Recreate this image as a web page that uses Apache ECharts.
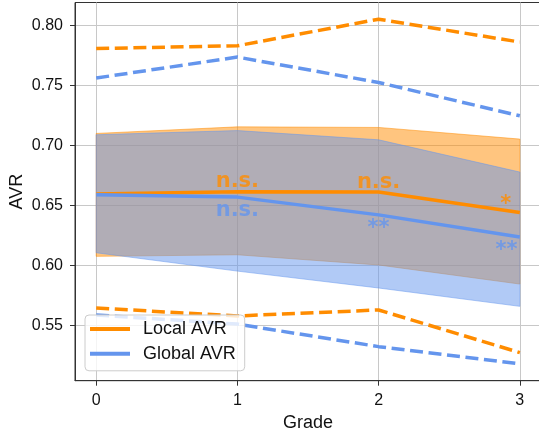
<!DOCTYPE html>
<html><head><meta charset="utf-8">
<script src="https://cdn.jsdelivr.net/npm/echarts@6/dist/echarts.min.js"></script>
<style>html,body{margin:0;padding:0;background:#fff}#c{width:539px;height:430px}</style>
</head><body><div id="c"></div>
<script>
// ---- data ----
const grades = [0, 1, 2, 3];
const gradeTicks = [0, 1, 2, 3];
const avrTicks = [0.55, 0.60, 0.65, 0.70, 0.75, 0.80];

const localMean  = [0.6595, 0.6613, 0.6611, 0.6440];
const globalMean = [0.6589, 0.6569, 0.6421, 0.6236];

const localBandHi  = [0.7100, 0.7155, 0.7150, 0.7053];
const localBandLo  = [0.6075, 0.6088, 0.6003, 0.5844];
const globalBandHi = [0.7089, 0.7124, 0.7047, 0.6778];
const globalBandLo = [0.6105, 0.5952, 0.5811, 0.5658];

const localUpper  = [0.7808, 0.7831, 0.8053, 0.7862];
const globalUpper = [0.7562, 0.7737, 0.7525, 0.7247];
const localLower  = [0.5644, 0.5578, 0.5628, 0.5272];
const globalLower = [0.5586, 0.5510, 0.5322, 0.5178];

const annTexts = ['n.s.', 'n.s.', 'n.s.', '**', '*', '**'];
const annX     = [1, 1, 2, 2, 2.90, 2.905];
const annY     = [0.6707, 0.6463, 0.6696, 0.6360, 0.6555, 0.6177];
const annGroup = ['local', 'global', 'local', 'global', 'local', 'global'];

// ---- styles ----
const ORANGE = '#FF8C00';
const BLUE = '#6495ED';
const colorOf = g => g === 'local' ? ORANGE : BLUE;

const pts = arr => grades.map((g, i) => [g, arr[i]]);

function band(name, lo, hi, color) {
  return {
    type: 'custom', name: name, silent: true, z: 1,
    data: [[grades[0], lo[0]]],
    renderItem: (params, api) => {
      const p = [];
      grades.forEach((g, i) => p.push(api.coord([g, hi[i]])));
      for (let i = grades.length - 1; i >= 0; i--) p.push(api.coord([grades[i], lo[i]]));
      return { type: 'polygon', shape: { points: p },
        style: { fill: color, stroke: color, lineWidth: 1, opacity: 0.5 } };
    }
  };
}
function dashed(name, arr, color) {
  return { type: 'line', name: name, data: pts(arr), symbol: 'none', silent: true,
    lineStyle: { width: 3.5, color: color, type: [13, 5.6] }, z: 3 };
}
function solid(name, arr, color) {
  return { type: 'line', name: name, data: pts(arr), symbol: 'none', silent: true,
    itemStyle: { color: color },
    lineStyle: { width: 3.5, color: color }, z: 4 };
}

const annSeries = {
  type: 'scatter', silent: true, z: 5, symbolSize: 0,
  data: annTexts.map((t, i) => ({
    value: [annX[i], annY[i]],
    label: {
      show: true, formatter: t, position: 'inside', align: 'center', verticalAlign: 'middle',
      color: colorOf(annGroup[i]), fontFamily: 'DejaVu Sans', fontWeight: 'bold', fontSize: 21,
      offset: t.indexOf('*') >= 0 ? [0, 6] : [0, 1]
    }
  }))
};

const FONT = "'Liberation Sans', Arial, sans-serif";
const option = {
  animation: false,
  backgroundColor: '#fff',
  grid: { left: 75, top: 2.5, width: 466, height: 378.2, outerBoundsMode: 'none', containLabel: false,
    show: true, borderColor: '#333', borderWidth: 1, backgroundColor: 'transparent' },
  xAxis: {
    type: 'value', min: -0.15, max: 3.15,
    name: 'Grade', nameLocation: 'middle', nameGap: 31.5,
    nameTextStyle: { fontFamily: FONT, fontSize: 18, color: '#111' },
    axisLine: { show: true, onZero: false, lineStyle: { color: '#333', width: 1 } },
    axisTick: { show: true, length: 5, customValues: gradeTicks, lineStyle: { color: '#333' } },
    axisLabel: { customValues: gradeTicks, margin: 12, fontFamily: FONT, fontSize: 16, color: '#111' },
    splitLine: { show: true, lineStyle: { color: '#c8c8c8', width: 1 } }
  },
  yAxis: {
    type: 'value', min: 0.5038, max: 0.8192,
    name: 'AVR', nameLocation: 'middle', nameGap: 49, nameMoveOverlap: false,
    nameTextStyle: { fontFamily: FONT, fontSize: 18, color: '#111' },
    axisLine: { show: true, onZero: false, lineStyle: { color: '#333', width: 1 } },
    axisTick: { show: true, length: 5, customValues: avrTicks, lineStyle: { color: '#333' } },
    axisLabel: { customValues: avrTicks, margin: 12, fontFamily: FONT, fontSize: 16, color: '#111',
      formatter: v => v.toFixed(2) },
    splitLine: { show: true, lineStyle: { color: '#c8c8c8', width: 1 } }
  },
  legend: {
    data: ['Local AVR', 'Global AVR'], orient: 'vertical', left: 85, top: 315,
    icon: 'rect', itemWidth: 40, itemHeight: 4, itemGap: 4.8,
    padding: [4, 9, 7, 5],
    backgroundColor: 'rgba(255,255,255,0.8)', borderColor: '#cccccc', borderWidth: 1, borderRadius: 4,
    textStyle: { fontFamily: FONT, fontSize: 18, color: '#111', lineHeight: 20, padding: [0, 0, 0, 8] },
    z: 10
  },
  series: [
    band('localBand', localBandLo, localBandHi, ORANGE),
    band('globalBand', globalBandLo, globalBandHi, BLUE),
    dashed('localUp', localUpper, ORANGE),
    dashed('globalUp', globalUpper, BLUE),
    dashed('localLow', localLower, ORANGE),
    dashed('globalLow', globalLower, BLUE),
    solid('Local AVR', localMean, ORANGE),
    solid('Global AVR', globalMean, BLUE),
    annSeries
  ]
};
const chart = echarts.init(document.getElementById('c'), null, { renderer: 'canvas' });
chart.setOption(option);
</script></body></html>
